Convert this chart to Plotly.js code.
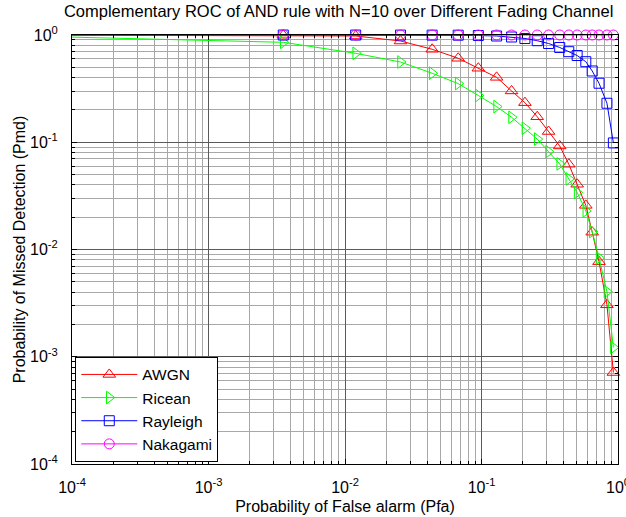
<!DOCTYPE html>
<html>
<head>
<meta charset="utf-8">
<script src="https://cdn.plot.ly/plotly-3.0.1.min.js"></script>
<style>
html,body{margin:0;padding:0;background:#fff;}
#chart{width:626px;height:517px;}
</style>
</head>
<body>
<div id="chart"></div>
<script>
// Probability of false alarm (shared by all channels)
var pfa = [2.5e-5, 0.00353, 0.01197, 0.0255, 0.0435, 0.0675, 0.0948, 0.129, 0.166, 0.208,
           0.256, 0.310, 0.374, 0.436, 0.502, 0.581, 0.647, 0.726, 0.830, 0.925];
// Probability of missed detection per channel
var pmdAWGN = [0.9999, 0.995, 0.979, 0.879, 0.736, 0.607, 0.490, 0.403, 0.301, 0.234,
               0.173, 0.126, 0.0924, 0.0624, 0.0406, 0.0258, 0.0145, 0.0077, 0.00305, 0.000713];
var pmdRicean = [0.997, 0.855, 0.675, 0.560, 0.440, 0.352, 0.273, 0.215, 0.171, 0.135,
                 0.107, 0.0817, 0.0628, 0.0455, 0.0340, 0.0229, 0.0147, 0.00835, 0.00405, 0.00122];
var pmdRayleigh = [1, 0.9995, 0.999, 0.998, 0.997, 0.996, 0.989, 0.979, 0.958, 0.928,
                   0.885, 0.833, 0.765, 0.699, 0.644, 0.564, 0.462, 0.355, 0.231, 0.0985];
var pmdNakagami = [1, 1, 1, 1, 1, 1, 1, 1, 1, 1,
                   1, 1, 1, 1, 1, 1, 1, 1, 1, 1];
var seriesNames = ["AWGN", "Ricean", "Rayleigh", "Nakagami"];
var decadeVals = [1e-4, 1e-3, 1e-2, 1e-1, 1];
var decadeText = ["10<sup>-4</sup>", "10<sup>-3</sup>", "10<sup>-2</sup>", "10<sup>-1</sup>", "10<sup>0</sup>"];

var minorVals = [];
for (var e = -4; e < 0; e++) {
  for (var k = 2; k <= 9; k++) minorVals.push(k * Math.pow(10, e));
}

var FONT = 'Arial, "Liberation Sans", sans-serif';

function tr(name, y, color, symbol, size) {
  return {
    x: pfa, y: y, name: name, type: 'scatter', mode: 'lines+markers',
    cliponaxis: false,
    line: {color: color, width: 1},
    marker: {symbol: symbol, size: size, color: color, line: {color: color, width: 1}}
  };
}

var data = [
  tr(seriesNames[0], pmdAWGN, '#ff0000', 'triangle-up-open', 11),
  tr(seriesNames[1], pmdRicean, '#00ff00', 'triangle-right-open', 11),
  tr(seriesNames[2], pmdRayleigh, '#0000ff', 'square-open', 10),
  tr(seriesNames[3], pmdNakagami, '#ff00ff', 'circle-open', 10)
];

function axis(titleText, standoff, labelGap) {
  return {
    type: 'log',
    range: [-4, 0],
    tickmode: 'array',
    tickvals: decadeVals,
    ticktext: decadeText,
    ticks: 'inside',
    ticklen: 5,
    tickcolor: '#000',
    ticklabelstandoff: labelGap,
    ticklabeloverflow: 'allow',
    showline: true,
    linecolor: '#000',
    linewidth: 1,
    mirror: 'allticks',
    showgrid: true,
    gridcolor: '#5a5a5a',
    gridwidth: 1,
    zeroline: false,
    tickfont: {family: FONT, size: 16, color: '#000'},
    minor: {
      tickmode: 'array',
      tickvals: minorVals,
      ticks: 'inside',
      ticklen: 3,
      tickcolor: '#000',
      showgrid: true,
      gridcolor: '#a8a8a8',
      gridwidth: 1
    },
    title: {text: titleText, standoff: standoff,
            font: {family: FONT, size: 16, color: '#000'}}
  };
}

var layout = {
  width: 626, height: 517,
  margin: {l: 72, r: 8, t: 35, b: 53},
  paper_bgcolor: '#fff', plot_bgcolor: '#fff',
  showlegend: true,
  title: {text: 'Complementary ROC of AND rule with N=10 over Different Fading Channel',
          x: 0.541, xanchor: 'center', y: 0.99, yanchor: 'top',
          font: {family: FONT, size: 16.5, color: '#000'}},
  xaxis: axis('Probability of False alarm (Pfa)', 5, 9),
  yaxis: axis('Probability of Missed Detection (Pmd)', 0, 10),
  legend: {
    x: 0.006, y: 0.005, xanchor: 'left', yanchor: 'bottom',
    bgcolor: '#fff', bordercolor: '#000', borderwidth: 1,
    font: {family: FONT, size: 15.5, color: '#000'},
    itemwidth: 56, tracegroupgap: 0
  }
};

Plotly.newPlot('chart', data, layout, {displayModeBar: false, staticPlot: true});
</script>
</body>
</html>
